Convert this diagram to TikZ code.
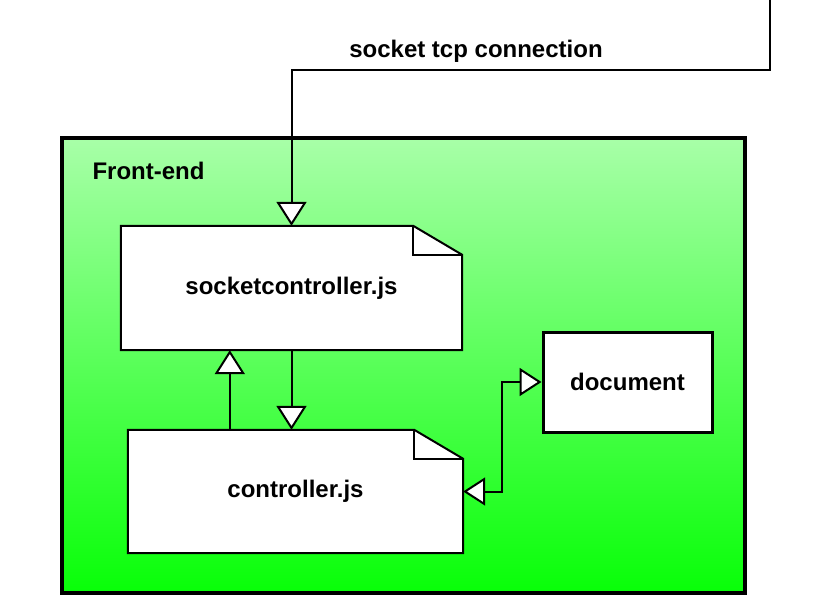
\documentclass[tikz,border=0pt]{standalone}
\usepackage{fontspec}
\setmainfont{Liberation Sans}
\usetikzlibrary{arrows.meta,calc}
\definecolor{gtop}{RGB}{168,255,168}
\definecolor{gbot}{RGB}{8,255,8}
\tikzset{
  lbl/.style={font=\fontsize{24}{28}\selectfont\bfseries, text=black},
  notebox/.style={draw=none, inner sep=0pt},
  conn/.style={line width=2pt, -{Triangle[length=24pt,width=30pt,fill=white,line width=2pt]}},
  conn2/.style={line width=2pt, {Triangle[length=22pt,width=28pt,fill=white,line width=2pt]}-{Triangle[length=22pt,width=28pt,fill=white,line width=2pt]}},
}
\newcommand{\notedraw}[1]{%
  \draw[line width=2pt, fill=white, line join=miter]
    (#1.north west) -- ([xshift=-49pt]#1.north east) -- ([yshift=-29pt]#1.north east)
    -- (#1.south east) -- (#1.south west) -- cycle;
  \draw[line width=2pt]
    ([xshift=-49pt]#1.north east) -- ([xshift=-49pt,yshift=-29pt]#1.north east)
    -- ([yshift=-29pt]#1.north east);
}
\begin{document}
\begin{tikzpicture}[x=1pt,y=-1pt]
\useasboundingbox (0,0) rectangle (820,602);
% front-end container
\node[draw, line width=4pt, top color=gtop, bottom color=gbot, minimum width=683pt, minimum height=455pt, inner sep=0pt] (fe) at (403.5,365.5) {};
\node[lbl, anchor=west] (felbl) at (89,171) {Front-end};
% nodes
\node[notebox, minimum width=341pt, minimum height=124pt] (sc) at (291.5,288) {};
\notedraw{sc}
\node[lbl] (sctxt) at (sc.center) {socketcontroller.js};
\node[notebox, minimum width=335pt, minimum height=123pt] (ctrl) at (295.5,491.5) {};
\notedraw{ctrl}
\node[lbl] (ctrltxt) at (ctrl.center) {controller.js};
\node[draw, line width=3pt, fill=white, minimum width=169pt, minimum height=100pt, inner sep=0pt, lbl] (doc) at (627.5,382) {document};
% external connection
\coordinate (top) at (770,-3);
\draw[conn] (top) -- (770,70) -| (sc.north);
\node[lbl] (tcp) at (476,51) {socket tcp connection};
% internal connectors
\draw[conn] (sc.south) -- (sc.south |- ctrl.north);
\path (sc.south west) ++(109,0) coordinate (up);
\draw[conn] (up |- ctrl.north) -- (up);
\draw[conn2] (doc.west) -- ++(-40,0) |- (ctrl.east);
\end{tikzpicture}
\end{document}
